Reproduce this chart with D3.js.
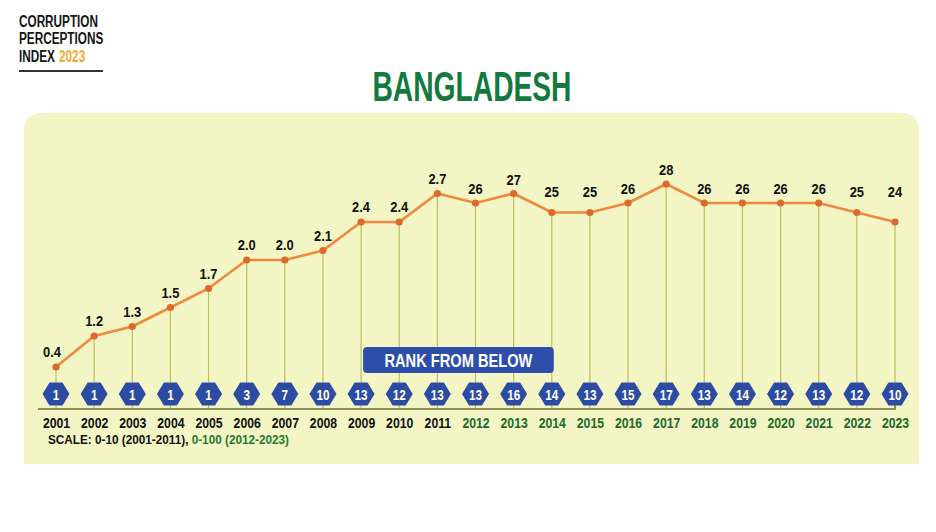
<!DOCTYPE html>
<html><head><meta charset="utf-8">
<script src="https://cdn.jsdelivr.net/npm/d3@7"></script>
<style>
html,body{margin:0;padding:0;background:#fff;}
svg{display:block;}
text{font-family:"Liberation Sans",Arial,sans-serif;font-weight:bold;}
</style></head>
<body>
<svg id="c" width="936" height="532"></svg>
<script>
const years = [2001,2002,2003,2004,2005,2006,2007,2008,2009,2010,2011,2012,2013,2014,2015,2016,2017,2018,2019,2020,2021,2022,2023];
const scores = [0.4,1.2,1.3,1.5,1.7,2.0,2.0,2.1,2.4,2.4,2.7,26,27,25,25,26,28,26,26,26,26,25,24];
const scaleMax = [10,10,10,10,10,10,10,10,10,10,10,100,100,100,100,100,100,100,100,100,100,100,100];
const ranks = [1,1,1,1,1,3,7,10,13,12,13,13,16,14,13,15,17,13,14,12,13,12,10];
const labels = ["0.4","1.2","1.3","1.5","1.7","2.0","2.0","2.1","2.4","2.4","2.7","26","27","25","25","26","28","26","26","26","26","25","24"];

const svg = d3.select("#c");

// condense text horizontally by factor sx
function condense(sel, sx){
  sel.each(function(){
    const w = this.getComputedTextLength();
    this.setAttribute("textLength", (w*sx).toFixed(2));
    this.setAttribute("lengthAdjust","spacingAndGlyphs");
  });
}
function fitTo(sel, w){
  sel.attr("textLength", w).attr("lengthAdjust","spacingAndGlyphs");
}

// logo (condensed via horizontal scale)
const logo = svg.append("g").attr("transform","translate(19,0) scale(0.735,1)");
logo.append("text").attr("x",0).attr("y",27).attr("font-size",16).attr("fill","#151515").text("CORRUPTION");
logo.append("text").attr("x",0).attr("y",44.5).attr("font-size",16).attr("fill","#151515").text("PERCEPTIONS");
logo.append("text").attr("x",0).attr("y",62).attr("font-size",16).attr("fill","#151515").text("INDEX");
logo.append("text").attr("x",54.5).attr("y",62).attr("font-size",16).attr("fill","#F2AA2E").text("2023");
svg.append("line").attr("x1",19).attr("x2",103).attr("y1",71).attr("y2",71).attr("stroke","#333").attr("stroke-width",2);

// title
fitTo(svg.append("text").attr("x",472).attr("y",101).attr("text-anchor","middle")
  .attr("font-size",43).attr("fill","#137A3F").text("BANGLADESH"), 199);

// panel
svg.append("path")
  .attr("d", (() => {
    const x0=24,y0=113,x1=919,y1=464,r=18;
    return `M${x0},${y1} L${x0},${y0+r} Q${x0},${y0} ${x0+r},${y0} L${x1-r},${y0} Q${x1},${y0} ${x1},${y0+r} L${x1},${y1} Z`;
  })())
  .attr("fill","#F3F5C4");

const x = d3.scalePoint().domain(years).range([56, 895]);
const norm = scores.map((s,i)=> s*10/scaleMax[i]);
const y = d3.scaleLinear().domain([0.4, 1.2, 2.8]).range([367, 336, 184]);

const baseY = 409;
const data = years.map((yr,i)=>({yr, v:norm[i], lab:labels[i], rank:ranks[i], green: scaleMax[i]===100}));

// drop lines
svg.append("g").selectAll("line").data(data).join("line")
  .attr("x1",d=>x(d.yr)).attr("x2",d=>x(d.yr))
  .attr("y1",d=>y(d.v)).attr("y2",baseY)
  .attr("stroke","#BDBD62").attr("stroke-width",1.2);

// axis baseline + year labels
const axisG = svg.append("g").attr("transform",`translate(0,${baseY})`)
  .call(d3.axisBottom(x).tickSize(0).tickPadding(8).tickFormat(d=>d));
axisG.select(".domain").remove();
axisG.append("path").attr("d",`M38,0 L${x(2023)},0 L${x(2023)},-5`).attr("fill","none")
  .attr("stroke","#8E8E58").attr("stroke-width",2);
axisG.selectAll(".tick text")
  .attr("font-size",15.5).attr("font-family",null)
  .attr("fill",(d,i)=> data[i].green ? "#1C6A2C" : "#111")
  .call(condense, 0.79);

// rank box
const bx0 = x(2009)+2, bx1 = x(2014)+2;
svg.append("rect").attr("x",bx0).attr("y",347).attr("width",bx1-bx0).attr("height",26).attr("rx",4)
  .attr("fill","#2D4FAB");
fitTo(svg.append("text").attr("x",(bx0+bx1)/2).attr("y",366.5).attr("text-anchor","middle")
  .attr("font-size",18.5).attr("fill","#fff").text("RANK FROM BELOW"), 148);

// line
svg.append("path").datum(data)
  .attr("d", d3.line().x(d=>x(d.yr)).y(d=>y(d.v)))
  .attr("fill","none").attr("stroke","#EE8A3E").attr("stroke-width",2.6);
svg.append("g").selectAll("circle").data(data).join("circle")
  .attr("cx",d=>x(d.yr)).attr("cy",d=>y(d.v)).attr("r",3.6).attr("fill","#DD6A2C");

// value labels
svg.append("g").selectAll("text").data(data).join("text")
  .attr("x",(d,i)=> x(d.yr) - (i===0?4:0))
  .attr("y",d=> d.green ? Math.min(y(d.v)-9, 197) : y(d.v)-10)
  .attr("text-anchor","middle").attr("font-size",15).attr("fill","#111")
  .text(d=>d.lab)
  .call(condense, 0.86);

// hexagons
const hw = 13.5, hh = 11.5, hi = 6.5;
const hex = `M${-hw},0 L${-hi},${-hh} L${hi},${-hh} L${hw},0 L${hi},${hh} L${-hi},${hh} Z`;
const hg = svg.append("g").selectAll("g").data(data).join("g")
  .attr("transform",d=>`translate(${x(d.yr)},394)`);
hg.append("path").attr("d",hex).attr("fill","#2C4BA3");
hg.append("text").attr("y",5.5).attr("text-anchor","middle").attr("font-size",15).attr("fill","#fff").text(d=>d.rank)
  .call(condense, 0.78);

// scale note
const note = svg.append("text").attr("x",48).attr("y",444).attr("font-size",12.5).attr("fill","#111");
note.append("tspan").text("SCALE: 0-10 (2001-2011), ");
note.append("tspan").attr("fill","#1F7A30").text("0-100 (2012-2023)");
fitTo(note, 241);
</script>
</body></html>
